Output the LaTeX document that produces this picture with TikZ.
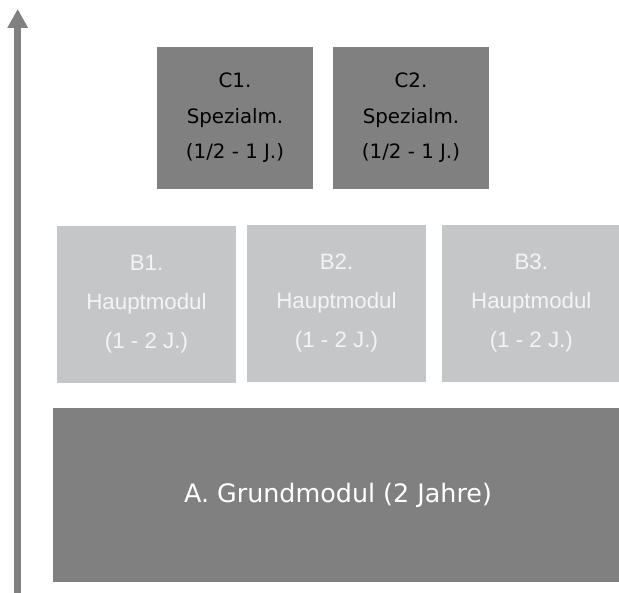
\documentclass[tikz,border=0pt]{standalone}
\usepackage{fontspec}
\setmainfont{DejaVu Sans}
\newfontfamily\bfont{Liberation Sans}
\usetikzlibrary{arrows.meta}
\definecolor{darkbox}{HTML}{808080}
\definecolor{lightbox}{HTML}{C5C6C8}
\definecolor{arrowgray}{HTML}{808080}
\definecolor{btext}{HTML}{F4F4F4}
\tikzset{
  modbox/.style={rectangle, inner sep=0pt, align=center, draw=none},
  cbox/.style={modbox, fill=darkbox, text=black, minimum width=156pt, minimum height=142pt,
    font={\fontsize{19.8}{35.5}\selectfont}},
  bbox/.style={modbox, fill=lightbox, text=btext, minimum width=179pt, minimum height=156.5pt,
    font={\bfont\fontsize{22.3}{39}\selectfont}},
  abox/.style={modbox, fill=darkbox, text=white, minimum width=569.4pt, minimum height=174pt,
    font={\fontsize{25.4}{30}\selectfont}},
  timearrow/.style={draw=arrowgray, line width=6.5pt, -{Triangle[length=19pt 0 0, width=19.5pt 0 0]}}
}
\begin{document}
\begin{tikzpicture}[x=1pt, y=-1pt]
\useasboundingbox (0,0) rectangle (619,593);
\node[cbox] (c1) at (235,118) {C1.\\Spezialm.\\(1/2 - 1 J.)};
\node[cbox] (c2) at (411,118) {C2.\\Spezialm.\\(1/2 - 1 J.)};
\node[bbox] (b1) at (146.5,304.5) {B1.\\Hauptmodul\\(1 - 2 J.)};
\node[bbox] (b2) at (336.5,303.5) {B2.\\Hauptmodul\\(1 - 2 J.)};
\node[bbox] (b3) at (531.3,303.5) {B3.\\Hauptmodul\\(1 - 2 J.)};
\node[abox] (a) at (338,495.3) {A. Grundmodul (2 Jahre)};
\coordinate (abot) at (17.7,596);
\coordinate (atop) at (17.7,9);
\draw[timearrow] (abot) -- (atop);
\end{tikzpicture}
\end{document}
